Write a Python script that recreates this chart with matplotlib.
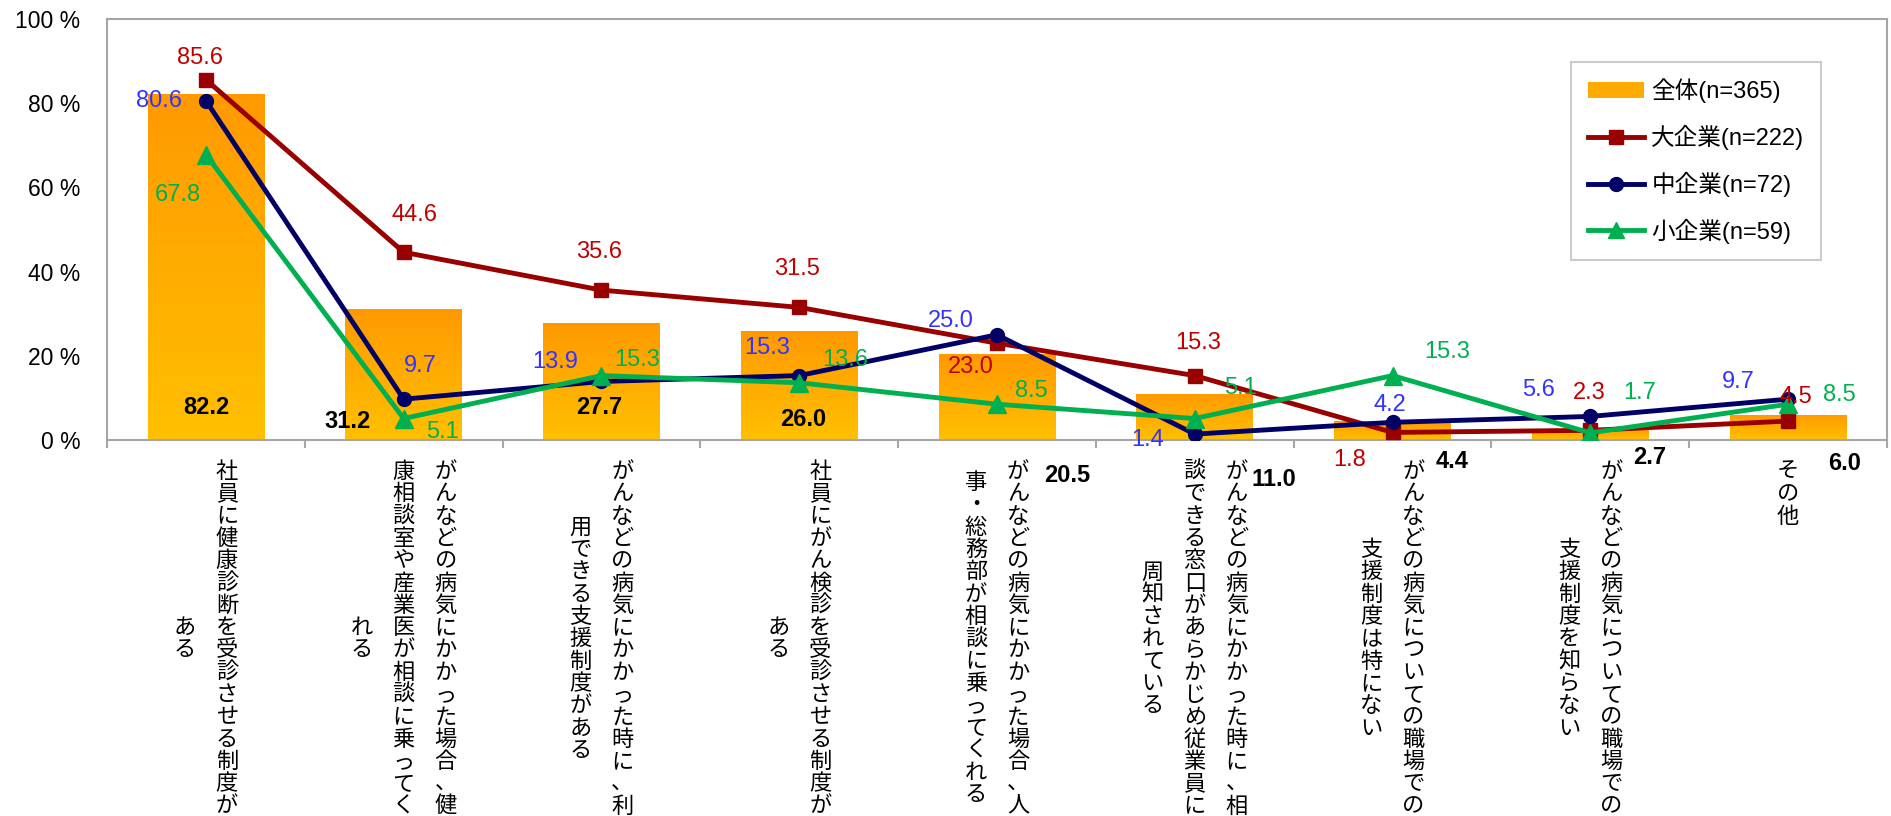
"""Cancer support survey: bar (overall) + lines by company size."""

import numpy as np
import matplotlib
matplotlib.use("Agg")
import matplotlib.pyplot as plt
from matplotlib.colors import LinearSegmentedColormap
from matplotlib.patches import Patch
from matplotlib.lines import Line2D

plt.rcParams['font.family'] = ['Liberation Sans', 'Noto Sans CJK JP', 'DejaVu Sans']

# ---- data -------------------------------------------------------------
categories = [
    "社員に健康診断を受診させる制度がある",
    "がんなどの病気にかかった場合、健康相談室や産業医が相談に乗ってくれる",
    "がんなどの病気にかかった時に、利用できる支援制度がある",
    "社員にがん検診を受診させる制度がある",
    "がんなどの病気にかかった場合、人事・総務部が相談に乗ってくれる",
    "がんなどの病気にかかった時に、相談できる窓口があらかじめ従業員に周知されている",
    "がんなどの病気についての職場での支援制度は特にない",
    "がんなどの病気についての職場での支援制度を知らない",
    "その他",
]
series_names = ["全体(n=365)", "大企業(n=222)", "中企業(n=72)", "小企業(n=59)"]
total = [82.2, 31.2, 27.7, 26.0, 20.5, 11.0, 4.4, 2.7, 6.0]
large = [85.6, 44.6, 35.6, 31.5, 23.0, 15.3, 1.8, 2.3, 4.5]
medium = [80.6, 9.7, 13.9, 15.3, 25.0, 1.4, 4.2, 5.6, 9.7]
small = [67.8, 5.1, 15.3, 13.6, 8.5, 5.1, 15.3, 1.7, 8.5]
yticks = [0, 20, 40, 60, 80, 100]

# label offsets in pixels (dx, dy up)
bar_off = [(0, 32), (-56, 19), (-2, 32), (4, 21), (70, -35), (79, -39), (60, -21), (59, -17), (56, -24)]
large_off = [(-6, 22), (11, 37), (-2, 38), (-2, 38), (-26, -24), (3, 33), (-43, -28), (-1, 37), (8, 24)]
medium_off = [(-47, 0), (17, 33), (-46, 19), (-32, 28), (-46, 14), (-47, -6), (-3, 17), (-52, 26), (-50, 17)]
small_off = [(-28, -40), (39, -13), (36, 16), (46, 23), (34, 13), (46, 31), (55, 24), (49, 40), (51, 9)]

W, H = 1891, 816
fig = plt.figure(figsize=(W / 100, H / 100), dpi=100)
ax = fig.add_axes([107 / W, 376 / H, 1780 / W, 421 / H])

x = np.arange(len(categories))
bars = ax.bar(x, total, width=0.59, color='#FFAA00', edgecolor='none', zorder=1)

# vertical gradient on each bar
grad = LinearSegmentedColormap.from_list('og', ['#FFC000', '#FF9900'])
g = np.linspace(0, 1, 256).reshape(-1, 1)
for b in bars:
    x0, y0 = b.get_x(), b.get_y()
    im = ax.imshow(g, cmap=grad, origin='lower', aspect='auto', zorder=1.5,
                   extent=[x0, x0 + b.get_width(), y0, y0 + b.get_height()])
    im.set_clip_path(b)

line_style = [
    (large, '#990000', 's', 10, '#C00000', large_off),
    (medium, '#000066', 'o', 10, '#3333FF', medium_off),
    (small, '#00B050', '^', 13, '#00B050', small_off),
]
for vals, col, mk, ms, tcol, offs in line_style:
    ax.plot(x, vals, color=col, lw=3.5, marker=mk, ms=ms, mec=col, mfc=col, zorder=3)
    for i, v in enumerate(vals):
        ax.annotate(f"{v:.1f}", xy=(i, v), xytext=offs[i], textcoords='offset pixels',
                    ha='center', va='center', fontsize=17, color=tcol, zorder=4)

for i, v in enumerate(total):
    ax.annotate(f"{v:.1f}", xy=(i, 0), xytext=bar_off[i], textcoords='offset pixels',
                ha='center', va='center', fontsize=17, fontweight='bold', color='black',
                zorder=4, annotation_clip=False)

ax.set_xlim(-0.5, len(categories) - 0.5)
ax.set_ylim(0, 100)
ax.set_yticks(yticks)
ax.set_yticklabels([f"{t} %" for t in yticks], fontsize=16.5)
ax.tick_params(axis='y', length=0, pad=19)
ax.set_xticks(np.arange(-0.5, len(categories), 1))
ax.set_xticklabels([])
ax.tick_params(axis='x', length=6, width=1.5, color='#A6A6A6', direction='out')
for s in ax.spines.values():
    s.set_color('#A6A6A6')
    s.set_linewidth(1.5)

# vertical (upright) category labels, 16 chars per column, right to left
pitch = 22.3
for i, name in enumerate(categories):
    cols = [name[k:k + 16] for k in range(0, len(name), 16)]
    n = len(cols)
    longest = max(len(c) for c in cols)
    for j, col in enumerate(cols):
        dx = ((n - 1) / 2 - j) * 42
        start = (longest - len(col)) / 2 * pitch
        for k, ch in enumerate(col):
            yc = 30 + start + k * pitch + 8
            ax.annotate(ch, xy=(i, 0), xycoords=('data', 'axes fraction'),
                        xytext=(dx, -yc), textcoords='offset pixels',
                        ha='center', va='baseline', fontsize=16,
                        family=['Noto Sans CJK JP', 'DejaVu Sans'],
                        annotation_clip=False)

handles = [
    Patch(facecolor='#FFAA00', edgecolor='none'),
    Line2D([], [], color='#990000', lw=3.5, marker='s', ms=10),
    Line2D([], [], color='#000066', lw=3.5, marker='o', ms=10),
    Line2D([], [], color='#00B050', lw=3.5, marker='^', ms=12),
]
leg = ax.legend(handles, series_names, loc='upper left', bbox_to_anchor=(0.8225, 0.898),
                borderaxespad=0, fontsize=17, frameon=True, fancybox=False,
                edgecolor='#BFBFBF', borderpad=0.7, labelspacing=0.92,
                handlelength=2.4, handletextpad=0.3)
leg.get_frame().set_linewidth(1.5)

fig.savefig("out.png", dpi=100)
